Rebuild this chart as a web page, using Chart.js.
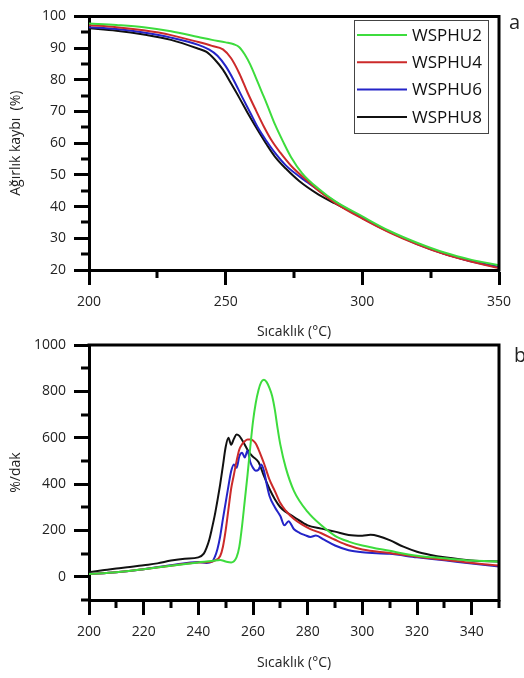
<!DOCTYPE html>
<html><head><meta charset="utf-8">
<script src="https://cdn.jsdelivr.net/npm/chart.js@4"></script>
<style>
html,body{margin:0;padding:0;background:#fff;width:524px;height:678px;overflow:hidden}
canvas{position:absolute;left:0}
#c1{top:0}
#c2{top:325px}
.lab{position:absolute;font-family:'Open Sans',sans-serif;font-size:20px;color:#222;line-height:1}
</style></head><body>
<canvas id="c1" width="524" height="340"></canvas>
<canvas id="c2" width="524" height="353"></canvas>
<div class="lab" style="left:509px;top:12px">a</div>
<div class="lab" style="left:514px;top:345px">b</div>
<script>
// ---------- Series names ----------
const seriesNames = ['WSPHU2', 'WSPHU4', 'WSPHU6', 'WSPHU8'];

// ---------- (a) TGA: temperature (°C) and weight (%) ----------
const tgaT2 = [200,210,220,230,240,245,250,253,255,257,259,261,263,265,268,271,274,278,284,290,300,310,320,330,340,350];
const tgaW2 = [97.8,97.3,96.6,95.3,93.5,92.6,91.8,91.2,90.3,88.0,84.8,80.8,76.6,72.5,66.0,60.5,55.5,50.5,45.6,41.7,36.9,32.3,28.6,25.5,23.2,21.5];
const tgaT4 = [200,210,220,230,240,245,249,252,255,258,261,264,267,270,274,280,284,290,300,310,320,330,340,350];
const tgaW4 = [97.2,96.6,95.6,94.1,91.9,90.7,89.6,86.8,82.0,76.0,70.5,65.2,60.6,57.0,52.8,48.0,45.0,41.2,36.2,31.8,28.1,25.0,22.6,20.6];
const tgaT6 = [200,210,220,230,240,244,247,250,253,256,259,262,265,268,272,280,290,300,310,320,330,340,350];
const tgaW6 = [96.6,96.0,94.9,93.3,91.0,89.5,87.6,84.3,79.8,74.6,69.6,64.6,60.6,57.0,53.0,47.6,41.6,36.4,32.0,28.2,25.1,22.7,20.8];
const tgaT8 = [200,210,220,230,240,243,246,249,252,255,258,261,265,268,272,277,284,290,300,310,320,330,340,350];
const tgaW8 = [96.3,95.5,94.3,92.6,89.8,88.8,86.4,83.2,78.8,74.3,69.6,65.2,59.6,55.8,52.0,48.0,43.8,41.0,36.5,32.0,28.3,25.1,22.8,20.9];

// ---------- (b) DTG: temperature (°C) and rate (%/dak) ----------
const dtgT2 = [200,210,220,230,240,245,248,250,252,254,255,256,257,258,259,260,261,262,263,264,265,266,267,268,269,270,272,275,280,285,290,295,300,310,320,330,340,350];
const dtgV2 = [12,20,33,48,62,68,73,66,62,85,130,220,330,440,560,670,750,805,840,850,840,815,780,720,640,570,470,370,280,222,177,152,135,112,91,80,70,66];
const dtgT4 = [200,210,220,230,240,244,246,248,249,250,251,252,253,254,255,256,257,258,259,260,261,262,263,264,265,266,268,270,272,275,278,281,285,290,295,300,310,320,330,340,350];
const dtgV4 = [12,20,33,48,62,64,70,90,130,200,290,380,440,500,549,572,585,592,592,588,575,550,521,490,455,420,370,318,285,249,225,206,188,160,135,118,103,87,74,60,49];
const dtgT6 = [200,210,220,230,240,243,245,246,247,248,249,250,251,252,253,254,255,256,257,258,259,260,261,262,263,264,265,266,268,270,271.5,273,275,277,279,281,283,286,290,295,300,310,320,330,340,350];
const dtgV6 = [12,20,33,50,64,60,65,85,120,175,250,320,390,455,485,470,520,535,515,545,495,470,458,462,485,458,400,350,300,262,222,240,205,190,180,172,178,160,135,115,106,99,84,71,57,44];
const dtgT8 = [200,205,210,215,220,225,230,235,240,242,243,244,245,246,247,248,249,250,251,252,253,254,255,256,257,258,259,260,262,264,266,268,270,272,275,280,285,290,295,300,303,306,310,315,320,325,330,340,350];
const dtgV8 = [20,28,36,42,50,58,70,78,84,100,125,160,210,265,330,400,480,560,600,570,595,614,608,590,570,548,530,518,495,435,380,335,300,280,258,222,208,195,180,177,181,175,158,130,108,94,84,70,66];

// ---------- Tick values ----------
const tgaXTicks = [200, 250, 300, 350];
const tgaXMinor = [225, 275, 325];
const tgaYTicks = [20, 30, 40, 50, 60, 70, 80, 90, 100];
const tgaYMinor = [25, 35, 45, 55, 65, 75, 85, 95];
const dtgXTicks = [200, 220, 240, 260, 280, 300, 320, 340];
const dtgXMinor = [210, 230, 250, 270, 290, 310, 330, 350];
const dtgYTicks = [0, 200, 400, 600, 800, 1000];
const dtgYMinor = [-100, 100, 300, 500, 700, 900];

const colors = ['#3ddc3d', '#cc2a2a', '#2424c8', '#111111'];
const FONT = "'Open Sans', sans-serif";

const zip = (xs, ys) => xs.map((x, i) => ({x: x, y: ys[i]}));

function makeDatasets(pairs) {
  return pairs.map((p, i) => ({
    label: seriesNames[i],
    data: zip(p[0], p[1]),
    borderColor: colors[i],
    backgroundColor: colors[i],
    borderWidth: 2,
    pointRadius: 0,
    fill: false,
    cubicInterpolationMode: 'monotone'
  }));
}

const framePlugin = {
  id: 'frameTicks',
  afterDraw(chart, args, o) {
    const {ctx, chartArea: a, scales} = chart;
    ctx.save();
    ctx.strokeStyle = '#000';
    ctx.lineWidth = 3;
    ctx.lineCap = 'square';
    ctx.beginPath();
    ctx.moveTo(a.left, a.top);
    ctx.lineTo(a.right, a.top);
    ctx.lineTo(a.right, a.bottom);
    ctx.stroke();
    ctx.lineCap = 'butt';
    ctx.beginPath();
    for (const v of o.xMinor) {
      const px = Math.round(scales.x.getPixelForValue(v));
      ctx.moveTo(px, a.bottom);
      ctx.lineTo(px, a.bottom + o.len);
    }
    for (const v of o.yMinor) {
      const py = Math.round(scales.y.getPixelForValue(v));
      ctx.moveTo(a.left, py);
      ctx.lineTo(a.left - o.len, py);
    }
    ctx.stroke();
    ctx.restore();
  }
};

const boxLegend = {
  id: 'boxLegend',
  afterDraw(chart, args, o) {
    if (!o.show) return;
    const ctx = chart.ctx;
    ctx.save();
    ctx.fillStyle = '#fff';
    ctx.fillRect(o.x, o.y, o.w, o.h);
    ctx.strokeStyle = '#444';
    ctx.lineWidth = 1;
    ctx.strokeRect(o.x + 0.5, o.y + 0.5, o.w, o.h);
    ctx.font = o.font;
    ctx.textBaseline = 'middle';
    chart.data.datasets.forEach((ds, i) => {
      const yy = o.y + o.first + i * o.gap;
      ctx.strokeStyle = ds.borderColor;
      ctx.lineWidth = 2;
      ctx.beginPath();
      ctx.moveTo(o.x + o.l0, yy);
      ctx.lineTo(o.x + o.l1, yy);
      ctx.stroke();
      ctx.fillStyle = '#111';
      ctx.fillText(ds.label, o.x + o.tx, yy + 1);
    });
    ctx.restore();
  }
};

function axisCommon(ticksArr, titleText, titlePad, tickPad, fixSize, horizontal) {
  return {
    type: 'linear',
    border: {display: true, color: '#000', width: 3},
    grid: {display: true, drawOnChartArea: false, drawTicks: true, tickLength: 15, tickWidth: 3, tickColor: '#000'},
    ticks: {font: {family: FONT, size: 14}, color: '#222', padding: tickPad, maxRotation: 0, autoSkip: false,
            callback: (v) => String(v)},
    title: {display: true, text: titleText, font: {family: FONT, size: 14}, color: '#222', padding: titlePad},
    afterBuildTicks: (s) => { s.ticks = ticksArr.map(v => ({value: v})); },
    afterFit: (s) => { if (horizontal) s.height = fixSize; else s.width = fixSize; }
  };
}

// ---------- Chart (a) ----------
const xA = axisCommon(tgaXTicks, 'Sıcaklık (°C)', {top: 0, bottom: 0}, 9, 70, true);
xA.min = 200; xA.max = 350; xA.position = 'bottom';
const yA = axisCommon(tgaYTicks, 'Ağırlık kaybı  (%)', {top: 8, bottom: 0}, 8, 89, false);
yA.min = 20; yA.max = 100; yA.position = 'left';

new Chart(document.getElementById('c1'), {
  type: 'line',
  data: {datasets: makeDatasets([[tgaT2, tgaW2], [tgaT4, tgaW4], [tgaT6, tgaW6], [tgaT8, tgaW8]])},
  options: {
    responsive: false, animation: false, devicePixelRatio: 1,
    layout: {padding: {left: 0, right: 25, top: 14, bottom: 0}},
    scales: {x: xA, y: yA},
    plugins: {
      legend: {display: false}, tooltip: {enabled: false},
      frameTicks: {xMinor: tgaXMinor, yMinor: tgaYMinor, len: 8},
      boxLegend: {show: true, x: 354, y: 20, w: 134, h: 113, first: 15, gap: 27.3, l0: 3, l1: 53, tx: 58, font: "17px " + FONT}
    }
  },
  plugins: [framePlugin, boxLegend]
});

// ---------- Chart (b) ----------
const xB = axisCommon(dtgXTicks, 'Sıcaklık (°C)', {top: 0, bottom: 7}, 9, 78, true);
xB.min = 200; xB.max = 350; xB.position = 'bottom';
const yB = axisCommon(dtgYTicks, '%/dak', {top: 8, bottom: 0}, 8, 89, false);
yB.min = -100; yB.max = 1000; yB.position = 'left';

new Chart(document.getElementById('c2'), {
  type: 'line',
  data: {datasets: makeDatasets([[dtgT2, dtgV2], [dtgT4, dtgV4], [dtgT6, dtgV6], [dtgT8, dtgV8]])},
  options: {
    responsive: false, animation: false, devicePixelRatio: 1,
    layout: {padding: {left: 0, right: 25, top: 20, bottom: 0}},
    scales: {x: xB, y: yB},
    plugins: {
      legend: {display: false}, tooltip: {enabled: false},
      frameTicks: {xMinor: dtgXMinor, yMinor: dtgYMinor, len: 8},
      boxLegend: {show: false}
    }
  },
  plugins: [framePlugin, boxLegend]
});
</script>
</body></html>
